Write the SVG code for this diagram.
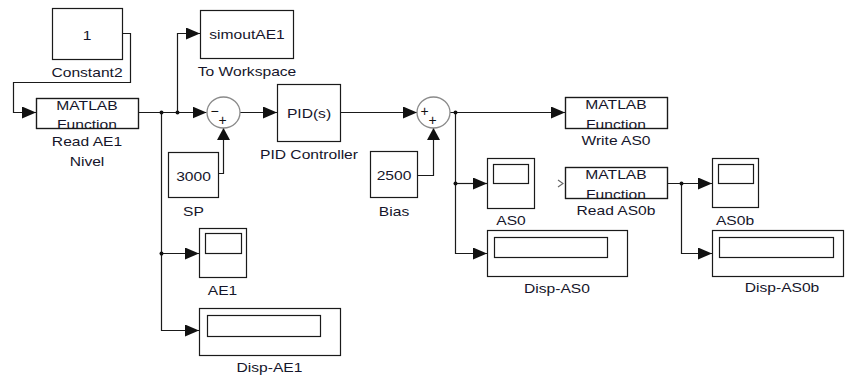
<svg xmlns="http://www.w3.org/2000/svg" width="845" height="376" viewBox="0 0 845 376">
<style>
.blk{fill:#fff;stroke:#1a1a1a;stroke-width:1.2}
.frame{fill:none;stroke:#1a1a1a;stroke-width:1.2}
.sum{fill:#fff;stroke:#8a8a8a;stroke-width:1.3}
.w{fill:none;stroke:#1a1a1a;stroke-width:1.2}
.t{font-family:"Liberation Sans",Arial,sans-serif;font-size:12.5px;fill:#15152a;text-anchor:middle}
.s{font-family:"Liberation Sans",Arial,sans-serif;font-size:14px;fill:#111;text-anchor:middle}
.dot{fill:#111}
</style>
<defs>
<marker id="ah" markerUnits="userSpaceOnUse" markerWidth="14" markerHeight="12" refX="14" refY="6" orient="auto">
<path d="M0,0 L14,6 L0,12 z" fill="#111"/>
</marker>
<marker id="av" markerUnits="userSpaceOnUse" markerWidth="12" markerHeight="13" refX="12" refY="6.5" orient="auto">
<path d="M0,0 L12,6.5 L0,13 z" fill="#111"/>
</marker>
<clipPath id="c1"><rect x="36" y="98" width="102" height="30"/></clipPath>
<clipPath id="c2"><rect x="565" y="97" width="102" height="31"/></clipPath>
<clipPath id="c3"><rect x="565" y="167" width="102" height="31"/></clipPath>
</defs>
<rect width="845" height="376" fill="#fff"/>

<g id="connectors">
<path class="w" d="M122,33.5 H130.5 V82.5 H13.5 V112.5 H36" marker-end="url(#ah)"/>
<path class="w" d="M138,112.5 H206.5" marker-end="url(#ah)"/>
<path class="w" d="M177.5,112.5 V33.5 H200" marker-end="url(#ah)"/>
<path class="w" d="M161.5,112.5 V330.5 H199" marker-end="url(#ah)"/>
<path class="w" d="M161.5,253.5 H199" marker-end="url(#ah)"/>
<path class="w" d="M218,173.5 H223.5 V128" marker-end="url(#av)"/>
<path class="w" d="M239.5,112.5 H277" marker-end="url(#ah)"/>
<path class="w" d="M340,112.5 H417" marker-end="url(#ah)"/>
<path class="w" d="M417,175.5 H433.5 V128" marker-end="url(#av)"/>
<path class="w" d="M450,112.5 H565" marker-end="url(#ah)"/>
<path class="w" d="M455.5,112.5 V253.5 H487" marker-end="url(#ah)"/>
<path class="w" d="M455.5,183.5 H487" marker-end="url(#ah)"/>
<path class="w" d="M667,183.5 H712" marker-end="url(#ah)"/>
<path class="w" d="M681.5,183.5 V253.5 H712" marker-end="url(#ah)"/>
<circle class="dot" cx="161.5" cy="112.5" r="2"/>
<circle class="dot" cx="177.5" cy="112.5" r="2"/>
<circle class="dot" cx="161.5" cy="253.5" r="2"/>
<circle class="dot" cx="455.5" cy="112.5" r="2"/>
<circle class="dot" cx="455.5" cy="183.5" r="2"/>
<circle class="dot" cx="681.5" cy="183.5" r="2"/>
</g>

<g id="constant2">
<rect class="blk" x="52.5" y="8.5" width="70" height="51"/>
<text class="t" transform="translate(87,40) scale(1.25,1)">1</text>
<text class="t" transform="translate(87,77) scale(1.25,1)">Constant2</text>
</g>

<g id="to-workspace">
<rect class="blk" x="200.5" y="10.5" width="93" height="48"/>
<text class="t" transform="translate(247,39) scale(1.25,1)">simoutAE1</text>
<text class="t" transform="translate(247,76) scale(1.25,1)">To Workspace</text>
</g>

<g id="read-ae1">
<rect class="blk" x="36.5" y="98.5" width="102" height="30"/>
<g clip-path="url(#c1)">
<text class="t" transform="translate(87,110) scale(1.25,1)">MATLAB</text>
<text class="t" transform="translate(87,129) scale(1.25,1)">Function</text>
</g>
<rect class="frame" x="36.5" y="98.5" width="102" height="30"/>
<text class="t" transform="translate(87,146) scale(1.25,1)">Read AE1</text>
<text class="t" transform="translate(87,166) scale(1.25,1)">Nivel</text>
</g>

<g id="sum1">
<ellipse class="sum" cx="223.5" cy="112.5" rx="16.5" ry="15.5"/>
<text class="s" x="214.5" y="116">−</text>
<text class="s" x="222.5" y="125">+</text>
</g>

<g id="sp">
<rect class="blk" x="168.5" y="152.5" width="50" height="45"/>
<text class="t" transform="translate(193.5,181) scale(1.25,1)">3000</text>
<text class="t" transform="translate(193.5,216) scale(1.25,1)">SP</text>
</g>

<g id="pid-controller">
<rect class="blk" x="277.5" y="84.5" width="63" height="57"/>
<text class="t" transform="translate(309,118) scale(1.25,1)">PID(s)</text>
<text class="t" transform="translate(309,159) scale(1.25,1)">PID Controller</text>
</g>

<g id="sum2">
<ellipse class="sum" cx="433.5" cy="112.5" rx="16.5" ry="15.5"/>
<text class="s" x="424.5" y="116">+</text>
<text class="s" x="432.5" y="125">+</text>
</g>

<g id="bias">
<rect class="blk" x="370.5" y="151.5" width="47" height="46"/>
<text class="t" transform="translate(394,180) scale(1.25,1)">2500</text>
<text class="t" transform="translate(394,216) scale(1.25,1)">Bias</text>
</g>

<g id="write-as0">
<rect class="blk" x="565.5" y="97.5" width="102" height="31"/>
<g clip-path="url(#c2)">
<text class="t" transform="translate(616,109) scale(1.25,1)">MATLAB</text>
<text class="t" transform="translate(616,129) scale(1.25,1)">Function</text>
</g>
<rect class="frame" x="565.5" y="97.5" width="102" height="31"/>
<text class="t" transform="translate(616,145) scale(1.25,1)">Write AS0</text>
</g>

<g id="as0">
<rect class="blk" x="487.5" y="158.5" width="47" height="50"/>
<rect class="frame" x="493.5" y="164.5" width="35" height="19"/>
<text class="t" transform="translate(511,225) scale(1.25,1)">AS0</text>
</g>

<g id="disp-as0">
<rect class="blk" x="487.5" y="230.5" width="140" height="46"/>
<rect class="frame" x="494.5" y="237.5" width="113" height="20"/>
<text class="t" transform="translate(557,293) scale(1.25,1)">Disp-AS0</text>
</g>

<g id="read-as0b">
<polyline points="558,180 563,183.5 558,187" fill="none" stroke="#666" stroke-width="1.1"/>
<rect class="blk" x="565.5" y="167.5" width="102" height="31"/>
<g clip-path="url(#c3)">
<text class="t" transform="translate(616,179) scale(1.25,1)">MATLAB</text>
<text class="t" transform="translate(616,199) scale(1.25,1)">Function</text>
</g>
<rect class="frame" x="565.5" y="167.5" width="102" height="31"/>
<text class="t" transform="translate(616,215) scale(1.25,1)">Read AS0b</text>
</g>

<g id="as0b">
<rect class="blk" x="712.5" y="158.5" width="46" height="49"/>
<rect class="frame" x="718.5" y="164.5" width="35" height="19"/>
<text class="t" transform="translate(735,225) scale(1.25,1)">AS0b</text>
</g>

<g id="disp-as0b">
<rect class="blk" x="712.5" y="230.5" width="131" height="46"/>
<rect class="frame" x="719.5" y="237.5" width="114" height="20"/>
<text class="t" transform="translate(782,292) scale(1.25,1)">Disp-AS0b</text>
</g>

<g id="ae1">
<rect class="blk" x="199.5" y="228.5" width="47" height="49"/>
<rect class="frame" x="205.5" y="233.5" width="36" height="20"/>
<text class="t" transform="translate(222.5,295) scale(1.25,1)">AE1</text>
</g>

<g id="disp-ae1">
<rect class="blk" x="199.5" y="308.5" width="141" height="47"/>
<rect class="frame" x="207.5" y="315.5" width="113" height="21"/>
<text class="t" transform="translate(269.5,372) scale(1.25,1)">Disp-AE1</text>
</g>
</svg>
